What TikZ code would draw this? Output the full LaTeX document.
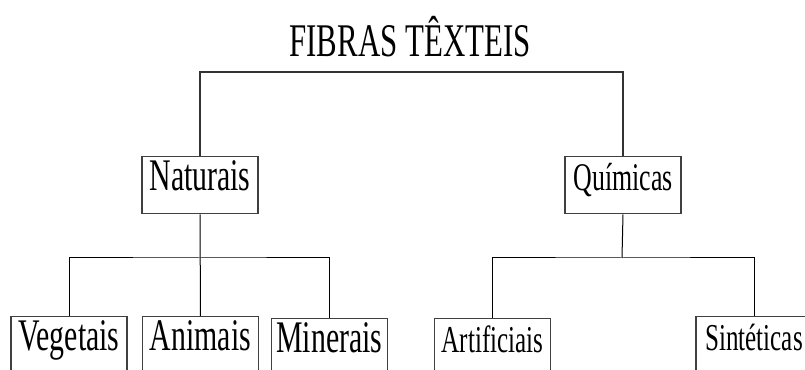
\documentclass[tikz,border=0pt]{standalone}
\usepackage{fontspec}
\setmainfont[FakeStretch=0.66]{Liberation Serif}

\begin{document}
\begin{tikzpicture}[x=0.5pt,y=0.5pt,
  caixa/.style={draw=black!75,line width=0.75pt,anchor=north,
    minimum width=58pt,minimum height=28.5pt,inner xsep=1pt,
    text height=0.7em,text depth=0.2em},
  grande/.style={font=\fontsize{22.6}{26}\selectfont},
  media/.style={font=\fontsize{19}{22}\selectfont},
  pequena/.style={font=\fontsize{19.6}{23}\selectfont}]
\useasboundingbox (0,0) rectangle (805,370);
\clip (0,0) rectangle (805,370);
\coordinate (T) at (410,313);
\coordinate (N) at (200,214);
\coordinate (Q) at (623,214);
\coordinate (V) at (69,54);
\coordinate (A) at (200.5,54);
\coordinate (M) at (329.5,52);
\coordinate (R) at (492.5,52);
\coordinate (S) at (754,54);
\coordinate (topo) at (411,298);
\coordinate (barN) at (200,112);
\coordinate (barQ) at (622,112);

% Title
\node[anchor=base,font=\fontsize{23.4}{28}\selectfont] (titulo) at (T) {FIBRAS TÊXTEIS};

% Boxes
\node[caixa,grande] (nat) at (N) {Naturais};
\node[caixa,pequena] (qui) at (Q) {Químicas};
\node[caixa,grande] (veg) at (V) {Vegetais};
\node[caixa,grande] (ani) at (A) {Animais};
\node[caixa,grande] (min) at (M) {Minerais};
\node[caixa,media] (art) at (R) {Artificiais};
\node[caixa,media] (sin) at (S) {Sintéticas};

% Connecting lines
\draw[line width=0.7pt,black!80] (nat.north) |- (topo) -| (qui.north);
\draw[line width=0.5pt] (nat.south) -- (ani.north);
\draw[line width=0.5pt] (veg.north) |- (barN) -| (min.north);
\draw[line width=0.5pt] (qui.south) -- (barQ);
\draw[line width=0.5pt] (art.north) |- (barQ) -| (sin.north);

\end{tikzpicture}
\end{document}
